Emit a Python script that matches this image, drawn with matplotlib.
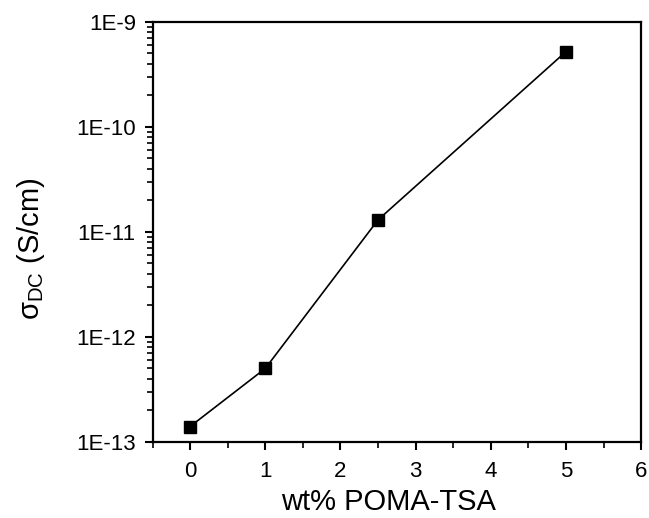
import matplotlib
matplotlib.use("Agg")
import matplotlib.pyplot as plt
from matplotlib.ticker import LogLocator, NullFormatter, MultipleLocator

plt.rcParams['font.family'] = ['Liberation Sans', 'DejaVu Sans']
plt.rcParams['mathtext.fontset'] = 'custom'
plt.rcParams['mathtext.rm'] = 'Liberation Sans'
plt.rcParams['mathtext.it'] = 'Liberation Sans'

wt = [0, 1, 2.5, 5]
sigma = [1.4e-13, 5e-13, 1.3e-11, 5.2e-10]
xticks = [0, 1, 2, 3, 4, 5, 6]
yticks = [1e-13, 1e-12, 1e-11, 1e-10, 1e-9]
yticklabels = ['1E-13', '1E-12', '1E-11', '1E-10', '1E-9']

fig = plt.figure(figsize=(6.49, 5.18), dpi=100)
ax = fig.add_axes([0.235, 0.147, 0.753, 0.811])
ax.plot(wt, sigma, color='black', lw=1.2, marker='s', markersize=9)
ax.set_yscale('log')
ax.set_xlim(-0.5, 6)
ax.set_ylim(1e-13, 1e-9)
ax.set_xticks(xticks)
ax.xaxis.set_minor_locator(MultipleLocator(0.5))
ax.set_yticks(yticks)
ax.set_yticklabels(yticklabels)
ax.yaxis.set_minor_locator(LogLocator(base=10, subs=range(2, 10)))
ax.yaxis.set_minor_formatter(NullFormatter())
ax.tick_params(axis='both', which='major', direction='out', length=6, width=1.5, labelsize=16, top=False, right=False)
ax.tick_params(axis='x', which='major', pad=8)
ax.tick_params(axis='y', which='major', pad=6)
ax.tick_params(axis='both', which='minor', direction='out', length=4, width=1.2, top=False, right=False)
for s in ax.spines.values():
    s.set_linewidth(1.6)
ax.set_xlabel('wt% POMA-TSA', fontsize=21)
ax.set_ylabel('σ$_{\\mathregular{DC}}$ (S/cm)', fontsize=21)
ax.xaxis.set_label_coords(0.482, -0.11)
ax.yaxis.set_label_coords(-0.215, 0.46)
fig.savefig('out.png', dpi=100)
